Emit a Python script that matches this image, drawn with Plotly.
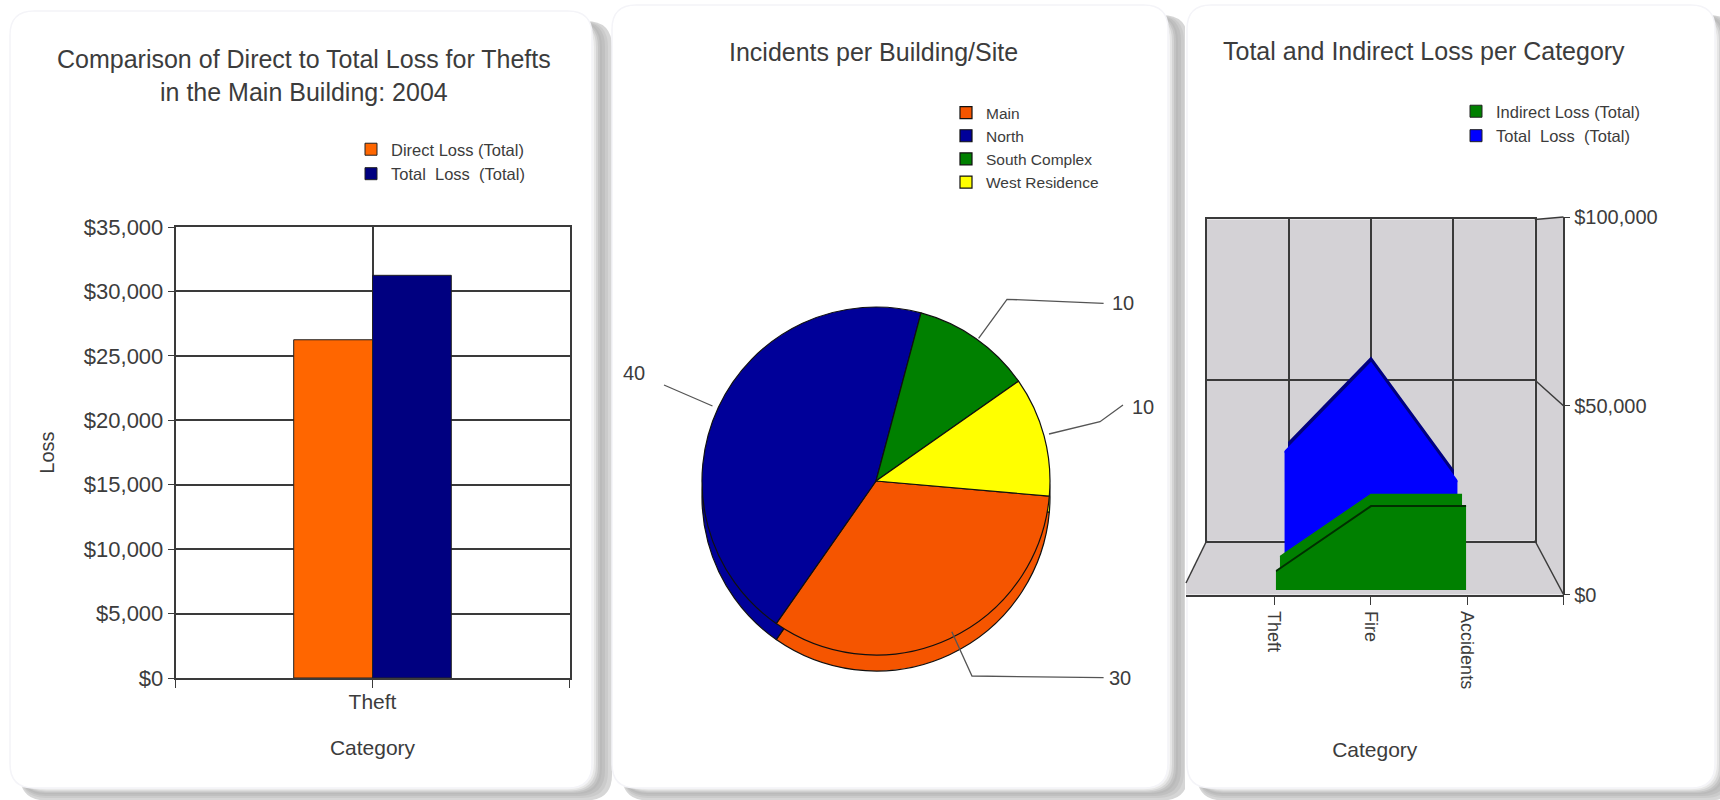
import plotly.graph_objects as go

W, H = 1720, 800

# ---- data ----
bar_categories = ["Theft"]
direct_loss = [26250]
total_loss_theft = [31250]

pie_labels = ["Main", "North", "South Complex", "West Residence"]
pie_values = [30, 40, 10, 10]

area_categories = ["Theft", "Fire", "Accidents"]
indirect_loss = [5000, 22500, 22500]
total_loss = [31250, 57500, 22500]

bar_ticks = [0, 5000, 10000, 15000, 20000, 25000, 30000, 35000]
area_ticks = [0, 50000, 100000]

FONT = "Liberation Sans, Arial, sans-serif"
TXT = "#3c3c3c"
LINE = "#3a3a3a"
WALL = "#d4d2d6"


def px(x):
    return x / W


def py(y):
    return 1 - y / H


def rrect(x0, y0, x1, y1, r):
    return (f"M{px(x0+r)},{py(y0)} L{px(x1-r)},{py(y0)} Q{px(x1)},{py(y0)} {px(x1)},{py(y0+r)} "
            f"L{px(x1)},{py(y1-r)} Q{px(x1)},{py(y1)} {px(x1-r)},{py(y1)} "
            f"L{px(x0+r)},{py(y1)} Q{px(x0)},{py(y1)} {px(x0)},{py(y1-r)} "
            f"L{px(x0)},{py(y0+r)} Q{px(x0)},{py(y0)} {px(x0+r)},{py(y0)} Z")


def poly(points):
    return "M" + " L".join(f"{px(x)},{py(y)}" for x, y in points) + " Z"


def open_line(points):
    return "M" + " L".join(f"{px(x)},{py(y)}" for x, y in points)


shapes = []


def fill_shape(path, color, line=None, width=0):
    shapes.append(dict(type="path", xref="paper", yref="paper", path=path, fillcolor=color,
                       line=dict(color=line or color, width=width), layer="below"))


SHADOW = [(20, "#d6d6d6"), (16, "#cbcbcb"), (13, "#c0c0c0"), (10, "#bababa"),
          (8, "#c4c4c4"), (6, "#d4d4d4"), (4, "#e6e6e6"), (2, "#f5f5f5")]


def card(x0, y0, x1, y1, clear_from=None):
    if clear_from is not None:
        fill_shape(poly([(clear_from, 0), (W, 0), (W, H), (clear_from, H)]), "#ffffff")
    for d, c in SHADOW:
        dy = d * 0.62
        fill_shape(rrect(x0 + 10, y0 + 10, x1 + d, y1 + dy, 26), c)
    fill_shape(rrect(x0, y0, x1, y1, 24), "#ffffff", "#f4f4f8", 1.5)


card(10, 11, 592, 788)
card(612, 5, 1168, 788, clear_from=612)
card(1187, 5, 1715, 788, clear_from=1185)

fig = go.Figure()

# ---- left: clustered bars ----
fig.add_bar(x=bar_categories, y=direct_loss, name="Direct Loss (Total)", legend="legend",
            marker=dict(color="#ff6600", line=dict(color="#222222", width=1)))
fig.add_bar(x=bar_categories, y=total_loss_theft, name="Total\u00a0 Loss\u00a0 (Total)", legend="legend",
            marker=dict(color="#000080", line=dict(color="#222222", width=1)))


# ---- right: pseudo 3-D area, one axis pair per depth plane ----
def plane(f):
    """Pixel box of the value/category plane at relative depth f (1 = front)."""
    cx, unit = 1371.0, 96.5
    base = 540.5 + (f - 0.848) / 0.152 * 54
    return (cx - unit * f, cx + unit * f, base - 377.4 * f, base)


# the back wall and the front plane need a trace to be drawn
fig.add_scatter(x=[None], y=[None], xaxis="x2", yaxis="y2", showlegend=False, hoverinfo="skip")

layers = [
    (3, 0.860, total_loss, "#000080", "#000080"),
    (4, 0.898, total_loss, "#0000ff", "#0000ff"),
    (5, 0.945, indirect_loss, "#008000", "#008000"),
    (6, 0.987, indirect_loss, "#008000", "#003000"),
]
axes = {}
for n, f, vals, fc, lc in layers:
    x0, x1, y0, y1 = plane(f)
    fig.add_scatter(x=area_categories, y=vals, xaxis=f"x{n}", yaxis=f"y{n}", mode="lines",
                    fill="tozeroy", fillcolor=fc, line=dict(color=lc, width=2), cliponaxis=False,
                    showlegend=False)
    axes[f"xaxis{n}"] = dict(domain=[px(x0), px(x1)], anchor=f"y{n}", type="category",
                             categoryorder="array", categoryarray=area_categories,
                             range=[0, 2], visible=False)
    axes[f"yaxis{n}"] = dict(domain=[py(y1), py(y0)], anchor=f"x{n}", range=[0, 100000], visible=False)

# legend entries for the area series (empty bars give the solid swatch)
for nm, col in (("Indirect Loss (Total)", "#008000"), ("Total\u00a0 Loss\u00a0 (Total)", "#0000ff")):
    fig.add_bar(x=[None], y=[None], xaxis="x7", yaxis="y7", name=nm, legend="legend3",
                marker=dict(color=col, line=dict(color="#222222", width=1)))

# ---- middle: pie with a shifted copy as the rim ----
pie_colors = ["#f55500", "#000099", "#008000", "#ffff00"]
PCX, PR = 876, 174
for cy, show in ((497, False), (481, True)):
    fig.add_pie(labels=pie_labels, values=pie_values, sort=False, direction="clockwise", rotation=95,
                textinfo="none", hoverinfo="label+value", showlegend=show, legend="legend2",
                marker=dict(colors=pie_colors, line=dict(color="#101010", width=1.2)),
                domain=dict(x=[px(PCX - PR), px(PCX + PR)], y=[py(cy + PR), py(cy - PR)]))

# walls of the 3-D box
bx0, bx1, bt, bb = 1206.8, 1534.8, 219.4, 540.5
fx0, fx1, ft, fb = 1186, 1563.5, 217, 594.5
fill_shape(poly([(bx0, bt), (bx1, bt), (bx1, bb), (bx0, bb)]), WALL)
fill_shape(poly([(bx0, bb), (bx1, bb), (fx1, fb), (fx0, fb), (fx0, 583)]), WALL)
fill_shape(poly([(bx1, bt), (fx1, ft), (fx1, fb), (bx1, bb)]), WALL)

for pts in ([(bx0, bb), (fx0, 583)], [(bx1, bb), (fx1, fb)], [(bx1, bt), (fx1, ft)], [(bx1, 380), (fx1, 405.8)]):
    shapes.append(dict(type="path", xref="paper", yref="paper", path=open_line(pts),
                       line=dict(color=LINE, width=1.5), layer="below"))

# pie leader lines
for pts in ([(978.6, 338.3), (1007, 299.3), (1103.6, 303.3)],
            [(1049, 434), (1100, 421.7), (1123, 405)],
            [(951.8, 631.7), (972, 676), (1103.6, 677.7)],
            [(712.5, 406), (664, 385)]):
    shapes.append(dict(type="path", xref="paper", yref="paper", path=open_line(pts),
                       line=dict(color="#555555", width=1.3), layer="above"))

annotations = []


def text(x, y, s, size, color=TXT):
    annotations.append(dict(x=px(x), y=py(y), xref="paper", yref="paper", text=s, showarrow=False,
                            xanchor="center", yanchor="middle", align="center",
                            font=dict(family=FONT, size=size, color=color)))


text(304, 75, "Comparison of Direct to Total Loss for Thefts<br>in the Main Building: 2004", 25)
text(874, 52, "Incidents per Building/Site", 25)
text(1424, 51, "Total and Indirect Loss per Category", 25)
for (x, y), v in zip([(1120, 678), (634, 373), (1123, 303), (1143, 407)], pie_values):
    text(x, y, str(v), 20)

grid = dict(showgrid=True, gridcolor=LINE, gridwidth=1.5, zeroline=False)
tick = dict(family=FONT, size=22, color=TXT)


def legend_at(x, y, size):
    return dict(x=px(x), y=py(y), xanchor="left", yanchor="top", bgcolor="rgba(0,0,0,0)",
                tracegroupgap=0, font=dict(family=FONT, size=size, color=TXT), traceorder="normal")


def money(values):
    return [f"${v:,}" for v in values]


fig.update_layout(
    width=W, height=H, margin=dict(l=0, r=0, t=0, b=0, autoexpand=False), autosize=False,
    paper_bgcolor="#ffffff", plot_bgcolor="rgba(0,0,0,0)",
    barmode="group", bargap=0.6, bargroupgap=0,
    shapes=shapes, annotations=annotations,
    legend=legend_at(351, 132, 16.5),
    legend2=legend_at(946, 96, 15.5),
    legend3=legend_at(1456, 94, 16.5),
    xaxis=dict(domain=[px(175.5), px(569.5)], anchor="y", type="category", range=[-0.5, 0.5],
               tickmode="array", tickvals=[-0.5, 0, 0.5], ticktext=["", bar_categories[0], ""],
               ticks="outside", ticklen=8, tickcolor=LINE, tickfont=dict(family=FONT, size=21, color=TXT),
               ticklabelstandoff=-4,
               showline=True, linecolor=LINE, linewidth=1.5, mirror=True, **grid,
               title=dict(text="Category", font=dict(family=FONT, size=21, color=TXT), standoff=28)),
    yaxis=dict(domain=[py(678), py(227)], anchor="x", range=[0, 35000], tickmode="array",
               tickvals=bar_ticks, ticktext=money(bar_ticks),
               ticks="outside", ticklen=6, tickcolor=LINE, tickfont=tick,
               showline=True, linecolor=LINE, linewidth=1.5, mirror=True, **grid,
               title=dict(text="Loss", font=dict(family=FONT, size=20, color=TXT), standoff=24)),
    # back wall grid
    xaxis2=dict(domain=[px(bx0), px(bx1)], anchor="y2", range=[-1, 3], tickmode="array",
                tickvals=[0, 1, 2], showticklabels=False, ticks="", showline=True, linecolor=LINE,
                linewidth=1.5, mirror=True, **grid),
    yaxis2=dict(domain=[py(bb), py(bt)], anchor="x2", range=[0, 100000], tickmode="array",
                tickvals=[50000], showticklabels=False, ticks="", showline=True, linecolor=LINE,
                linewidth=1.5, mirror=True, **grid),
    # front plane axes carry the labels
    xaxis7=dict(domain=[px(fx0), px(fx1)], anchor="y7", range=[-0.912, 3], tickmode="array",
                tickvals=[0, 1, 2, 3], ticktext=area_categories + [""], tickangle=90,
                ticks="outside", ticklen=8, tickcolor=LINE, showgrid=False, zeroline=False,
                tickfont=dict(family=FONT, size=18, color=TXT), ticklabelstandoff=3,
                showline=True, linecolor=LINE, linewidth=2,
                title=dict(text="Category", font=dict(family=FONT, size=21, color=TXT), standoff=54)),
    yaxis7=dict(domain=[py(fb), py(ft)], anchor="free", position=px(fx1), side="right", range=[0, 100000],
                tickmode="array", tickvals=area_ticks, ticktext=money(area_ticks),
                ticks="outside", ticklen=6, tickcolor=LINE, showgrid=False, zeroline=False,
                tickfont=dict(family=FONT, size=20, color=TXT), showline=True, linecolor=LINE, linewidth=1.5),
    **axes,
)

fig.write_html("out.html", config=dict(displayModeBar=False), post_script="document.body.style.margin='0';")
